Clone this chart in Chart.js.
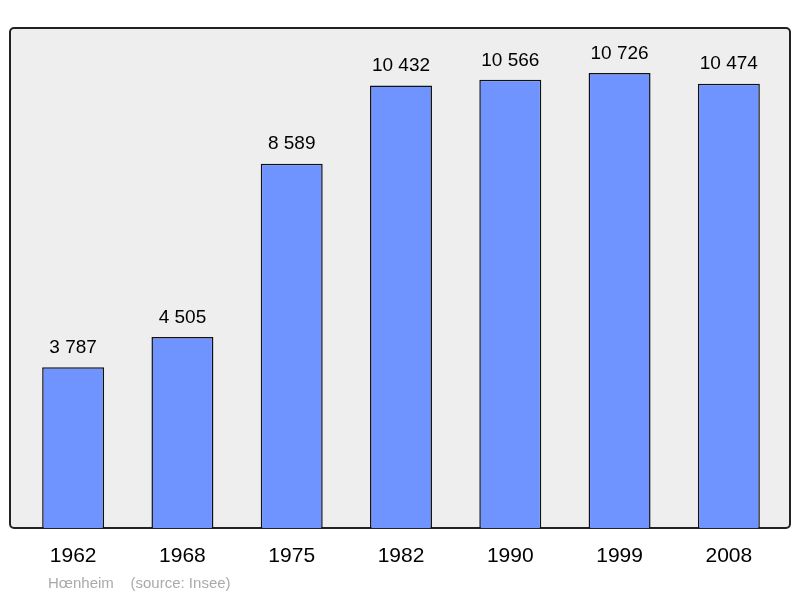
<!DOCTYPE html>
<html>
<head>
<meta charset="utf-8">
<script src="https://cdn.jsdelivr.net/npm/chart.js@4"></script>
<style>
  html, body { margin: 0; padding: 0; background: #fff; }
  #wrap { width: 800px; height: 598px; }
</style>
</head>
<body>
<div id="wrap"><canvas id="c"></canvas></div>
<script>
// données population
const years = ["1962", "1968", "1975", "1982", "1990", "1999", "2008"];
const population = [3787, 4505, 8589, 10432, 10566, 10726, 10474];
const yMax = 11787;

// espace fine comme séparateur de milliers
const fmt = (v) => String(v).replace(/\B(?=(\d{3})+(?!\d))/g, " ");

// cadre gris + étiquettes
const framePlugin = {
  id: "frame",
  beforeDatasetsDraw(chart) {
    const { ctx, chartArea: a } = chart;
    ctx.save();
    ctx.beginPath();
    ctx.roundRect(10, a.top, 780, a.bottom - a.top, 4);
    ctx.fillStyle = "#eeeeee";
    ctx.fill();
    ctx.lineWidth = 2;
    ctx.strokeStyle = "#222";
    ctx.stroke();
    ctx.restore();
  },
  afterDatasetsDraw(chart) {
    const { ctx, chartArea: a } = chart;
    const x = chart.scales.x, y = chart.scales.y;
    ctx.save();
    ctx.fillStyle = "#000";
    ctx.textAlign = "center";
    ctx.font = "19px 'Liberation Sans', Arial, sans-serif";
    population.forEach((v, i) => {
      ctx.textBaseline = "bottom";
      ctx.fillText(fmt(v), x.getPixelForValue(i), y.getPixelForValue(v) - 10);
    });
    ctx.font = "21px 'Liberation Sans', Arial, sans-serif";
    ctx.textBaseline = "middle";
    years.forEach((yr, i) => ctx.fillText(yr, x.getPixelForValue(i), a.bottom + 28));
    ctx.textAlign = "left";
    ctx.fillStyle = "#aaaaaa";
    ctx.font = "15px 'Liberation Sans', Arial, sans-serif";
    ctx.fillText("Hœnheim    (source: Insee)", 48, 584);
    ctx.restore();
  },
};

new Chart(document.getElementById("c"), {
  type: "bar",
  data: {
    labels: years,
    datasets: [{
      data: population,
      backgroundColor: "#7094ff",
      borderColor: "#111",
      borderWidth: 1.5,
      barPercentage: 1,
      categoryPercentage: 0.567,
    }],
  },
  options: {
    responsive: true,
    maintainAspectRatio: false,
    animation: false,
    layout: { padding: { left: 18.5, right: 16.5, top: 28, bottom: 70 } },
    plugins: { legend: { display: false }, tooltip: { enabled: false } },
    scales: {
      x: { display: false },
      y: { display: false, min: 0, max: yMax },
    },
  },
  plugins: [framePlugin],
});
</script>
</body>
</html>
